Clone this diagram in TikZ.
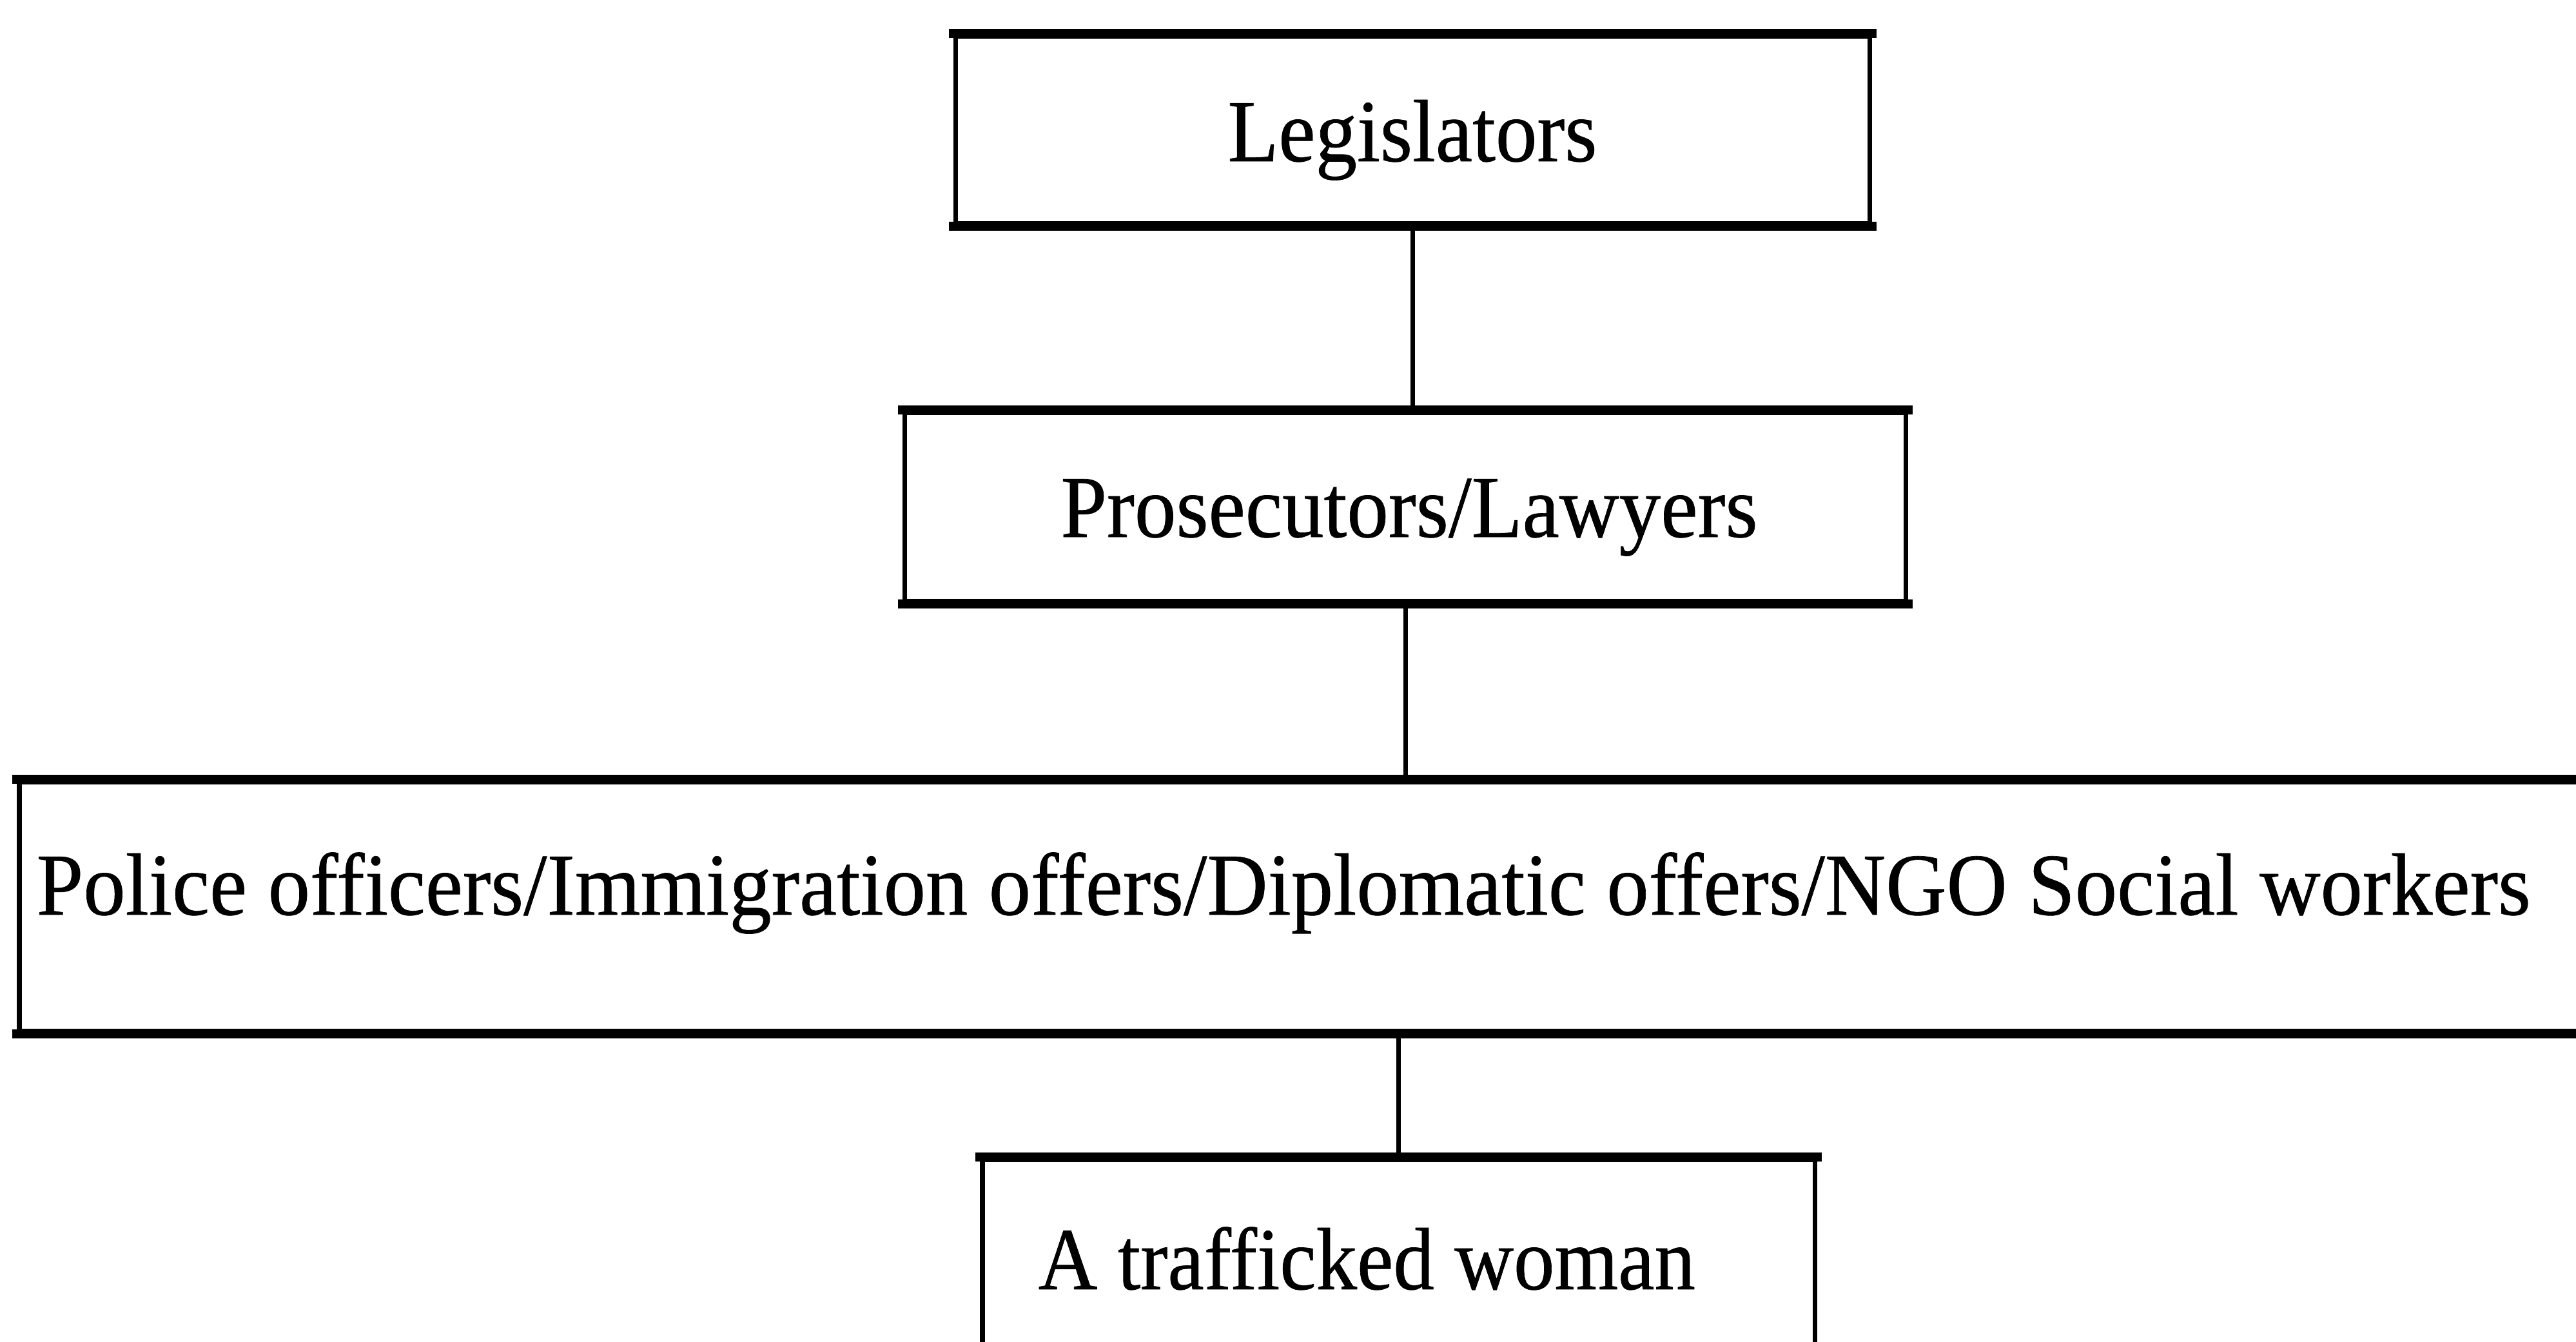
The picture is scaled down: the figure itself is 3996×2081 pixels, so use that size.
\documentclass[tikz,border=0pt]{standalone}
\usepackage{fontspec}
\setmainfont[FakeStretch=0.94,FakeBold=0.5]{Liberation Serif}
\newfontfamily\polfont[FakeStretch=0.952,FakeBold=0.5]{Liberation Serif}
\newfontfamily\trafont[FakeStretch=0.925,FakeBold=0.5]{Liberation Serif}
\begin{document}
\begin{tikzpicture}[x=0.01cm,y=-0.01cm,
  box/.style={draw=black,line width=2.2pt,rectangle,inner sep=0pt},
  hline/.style={line width=3.8pt,line cap=rect},
  conn/.style={line width=2pt},
  lbl/.style={font=\fontsize{39}{45}\selectfont,inner sep=0pt}]
\useasboundingbox[fill=white] (0,0) rectangle (3996,2081);
\clip (0,0) rectangle (3996,2081);
% boxes
\node[box,minimum width=14.17cm,minimum height=2.91cm] (leg) at (2191.5,201.5) {};
\node[box,minimum width=15.52cm,minimum height=2.93cm] (pros) at (2180,786.5) {};
\node[box,minimum width=39.89cm,minimum height=3.87cm] (pol) at (2025.5,1406.5) {};
\node[box,minimum width=12.91cm,minimum height=3.21cm] (traf) at (2169.5,1959.5) {};
\foreach \n in {leg,pros,pol,traf}{
  \draw[hline] (\n.north west) -- (\n.north east);
  \draw[hline] (\n.south west) -- (\n.south east);
}
% texts
\node[lbl,anchor=base] (tleg) at (2191,250) {Legislators};
\node[lbl,anchor=base] (tpros) at (2186,833) {Prosecutors/Lawyers};
\node[lbl,anchor=base west,font=\fontsize{39}{45}\polfont] (tpol) at (56,1419) {Police officers/Immigration offers/Diplomatic offers/NGO Social workers};
\node[lbl,anchor=base west,font=\fontsize{39}{45}\trafont] (ttraf) at (1610,2000) {A trafficked woman};
% connectors
\draw[conn] (leg.south) -- (leg.south |- pros.north);
\draw[conn] (pros.south) -- (pros.south |- pol.north);
\draw[conn] (traf.north |- pol.south) -- (traf.north);
\end{tikzpicture}
\end{document}
